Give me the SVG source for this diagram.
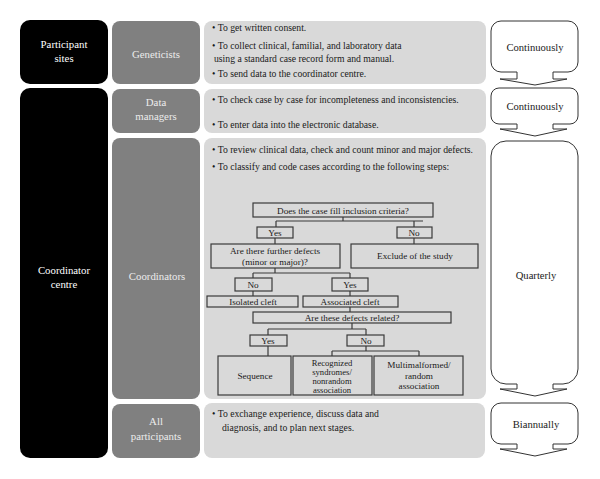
<svg xmlns="http://www.w3.org/2000/svg" width="600" height="479" viewBox="0 0 600 479" font-family="'Liberation Serif', 'DejaVu Serif', serif">
<style>
text{font-family:'Liberation Serif','DejaVu Serif',serif;}
.blk{fill:#000;}
.gry{fill:#808080;}
.lgt{fill:#d9d9d9;}
.wt{fill:#fff;font-size:10.8px;text-anchor:middle;}
.gt{fill:#ececec;font-size:10.8px;text-anchor:middle;}
.bt{fill:#1a1a1a;font-size:9.7px;}
.fb{fill:#d9d9d9;stroke:#3a3a3a;stroke-width:1.2;}
.ft{fill:#1a1a1a;font-size:9.2px;text-anchor:middle;}
.fs{fill:#1a1a1a;font-size:8.6px;text-anchor:middle;}
.cn{fill:none;stroke:#3a3a3a;stroke-width:1.2;}
.call{fill:#fff;stroke:#333;stroke-width:1;}
.ct{fill:#1a1a1a;font-size:10.6px;text-anchor:middle;}
</style>
<rect width="600" height="479" fill="#fff"/>
<g id="participant-sites"><rect class="blk" x="20" y="20" width="88" height="64" rx="10"/><text class="wt" x="64" y="48">Participant</text><text class="wt" x="64" y="62">sites</text></g>
<g id="coordinator-centre"><rect class="blk" x="20" y="88" width="88" height="370" rx="10"/><text class="wt" x="64" y="274">Coordinator</text><text class="wt" x="64" y="288">centre</text></g>
<g id="geneticists"><rect class="gry" x="112" y="21" width="88" height="63" rx="8"/><text class="gt" x="156" y="58">Geneticists</text></g>
<g id="data-managers"><rect class="gry" x="112" y="89" width="88" height="44" rx="8"/><text class="gt" x="156" y="106">Data</text><text class="gt" x="156" y="120">managers</text></g>
<g id="coordinators"><rect class="gry" x="112" y="138" width="88" height="261" rx="8"/><text class="gt" x="157" y="280">Coordinators</text></g>
<g id="all-participants"><rect class="gry" x="112" y="404" width="88" height="54" rx="8"/><text class="gt" x="156" y="425">All</text><text class="gt" x="156" y="440">participants</text></g>
<g id="tasks-geneticists"><rect class="lgt" x="204" y="21" width="282" height="63" rx="8"/>
<text class="bt" x="212" y="31">• To get written consent.</text>
<text class="bt" x="212" y="49">• To collect clinical, familial, and laboratory data</text>
<text class="bt" x="214" y="62">using a standard case record form and manual.</text>
<text class="bt" x="212" y="77">• To send data to the coordinator centre.</text></g>
<g id="tasks-data-managers"><rect class="lgt" x="204" y="89" width="282" height="44" rx="8"/>
<text class="bt" x="212" y="103">• To check case by case for incompleteness and inconsistencies.</text>
<text class="bt" x="212" y="128">• To enter data into the electronic database.</text></g>
<g id="tasks-coordinators"><rect class="lgt" x="204" y="138" width="282" height="261" rx="8"/>
<text class="bt" x="212" y="153">• To review clinical data, check and count minor and major defects.</text>
<text class="bt" x="212" y="170">• To classify and code cases according to the following steps:</text></g>
<g id="tasks-all"><rect class="lgt" x="204" y="403" width="281" height="55" rx="8"/>
<text class="bt" x="212" y="417">• To exchange experience, discuss data and</text>
<text class="bt" x="222" y="431">diagnosis, and to plan next stages.</text></g>
<g id="connectors">
<path class="cn" d="M343 217V221M276 221H423M276 221V227M414 221V227M275 238V244M414 238V244"/>
<path class="cn" d="M275 268V273M253 273H350M253 273V278M350 273V278M253 291V296M350 291V296M350 307V312"/>
<path class="cn" d="M352 323V329M268 329H366M268 329V335M366 329V335M268 346V356M366 346V351M332 351H419M332 351V356M419 351V356"/>
</g>
<g id="q-inclusion"><rect class="fb" x="253" y="203" width="180" height="14"/><text class="ft" x="343" y="213.5">Does the case fill inclusion criteria?</text></g>
<g id="yes1"><rect class="fb" x="257" y="227" width="36" height="11"/><text class="ft" x="275" y="236">Yes</text></g>
<g id="no1"><rect class="fb" x="397" y="227" width="35" height="11"/><text class="ft" x="414" y="236">No</text></g>
<g id="q-further"><rect class="fb" x="211" y="244" width="129" height="24"/><text class="ft" x="275" y="254">Are there further defects</text><text class="ft" x="275" y="265">(minor or major)?</text></g>
<g id="exclude"><rect class="fb" x="351" y="244" width="127" height="24"/><text class="ft" x="415" y="259">Exclude of the study</text></g>
<g id="no2"><rect class="fb" x="235" y="278" width="37" height="13"/><text class="ft" x="253" y="288">No</text></g>
<g id="yes2"><rect class="fb" x="332" y="278" width="36" height="13"/><text class="ft" x="350" y="288">Yes</text></g>
<g id="isolated"><rect class="fb" x="207" y="296" width="91" height="11"/><text class="ft" x="253" y="305">Isolated cleft</text></g>
<g id="associated"><rect class="fb" x="303" y="296" width="95" height="11"/><text class="ft" x="350" y="305">Associated cleft</text></g>
<g id="q-related"><rect class="fb" x="253" y="312" width="198" height="11"/><text class="ft" x="352" y="321">Are these defects related?</text></g>
<g id="yes3"><rect class="fb" x="250" y="335" width="37" height="11"/><text class="ft" x="268" y="344">Yes</text></g>
<g id="no3"><rect class="fb" x="347" y="335" width="37" height="11"/><text class="ft" x="366" y="344">No</text></g>
<g id="sequence"><rect class="fb" x="218" y="356" width="73" height="39"/><text class="ft" x="255" y="379">Sequence</text></g>
<g id="recognized"><rect class="fb" x="293" y="356" width="79" height="39"/><text class="fs" x="332" y="365.5">Recognized</text><text class="fs" x="332" y="374.5">syndromes/</text><text class="fs" x="332" y="383.5">nonrandom</text><text class="fs" x="332" y="392.5">association</text></g>
<g id="multimalformed"><rect class="fb" x="374" y="356" width="89" height="39"/><text class="ft" x="419" y="368">Multimalformed/</text><text class="ft" x="419" y="378.5">random</text><text class="ft" x="419" y="389">association</text></g>
<g id="freq-continuously-1"><path class="call" d="M501 21H568A10 10 0 0 1 578 31V62A10 10 0 0 1 568 72H553V79H567L535 85L500 79H517V72H501A10 10 0 0 1 491 62V31A10 10 0 0 1 501 21Z"/><text class="ct" x="535" y="51">Continuously</text></g>
<g id="freq-continuously-2"><path class="call" d="M499 88H570A8 8 0 0 1 578 96V116A8 8 0 0 1 570 124H553V129H567L535 136L500 129H517V124H499A8 8 0 0 1 491 116V96A8 8 0 0 1 499 88Z"/><text class="ct" x="535" y="110">Continuously</text></g>
<g id="freq-quarterly"><path class="call" d="M506 141H563A15 15 0 0 1 578 156V369A15 15 0 0 1 563 384H553V389H567L535 396L500 389H517V384H506A15 15 0 0 1 491 369V156A15 15 0 0 1 506 141Z"/><text class="ct" x="536" y="279">Quarterly</text></g>
<g id="freq-biannually"><path class="call" d="M501 403H568A10 10 0 0 1 578 413V434A10 10 0 0 1 568 444H553V449H567L535 456L500 449H517V444H501A10 10 0 0 1 491 434V413A10 10 0 0 1 501 403Z"/><text class="ct" x="536" y="428">Biannually</text></g>
</svg>
